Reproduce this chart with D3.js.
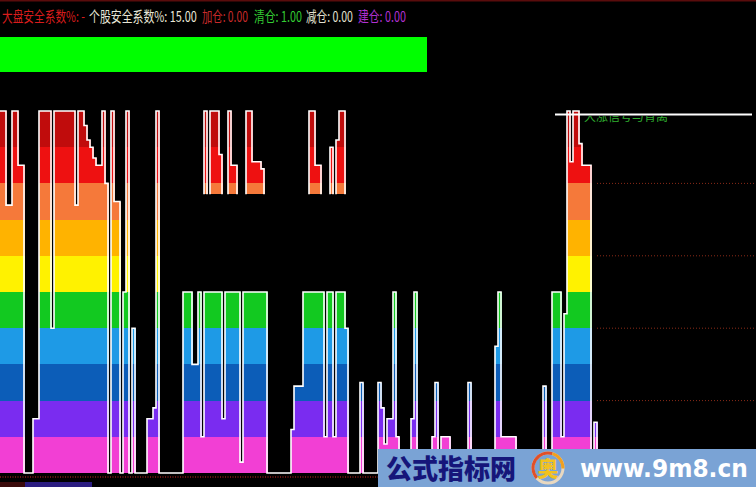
<!DOCTYPE html>
<html><head><meta charset="utf-8">
<script src="https://cdn.jsdelivr.net/npm/d3@7/dist/d3.min.js"></script>
<style>html,body{margin:0;padding:0;background:#000;overflow:hidden}svg{display:block}</style>
</head><body>
<svg id="c" width="756" height="487"></svg>
<script>
// ---- data ----
// main indicator value per bar (0..10 band units)
const mainValues = [
  10,10,7.4,7.4,10,10,8.5,8.5,0,0,
  0,1.5,1.5,10,10,10,10,4,10,10,
  10,10,10,10,10,7.4,10,10,9.6,9.2,
  9.0,8.7,8.5,8.5,10,8,0,10,7.5,7.5,
  0,5,10,0,4,0,0,0,0,1.5,
  1.5,1.8,10,0,0,0,0,0,0,0,
  0,5,5,5,3,3,5,1,5,5,
  5,5,5,5,1.5,5,5,5,5,5,
  0.3,5,5,5,5,5,5,5,5,0,
  0,0,0,0,0,0,0,1.2,2.4,2.4,
  2.4,5,5,5,5,5,5,5,1,5,
  5,1,5,5,5,4,0,0,0,0,
  2.5,0,0,0,0,0,2.5,1.8,0.8,1.5,
  1.5,5,1,0,0,0,0,1.5,5,0,
  0,0,0,0,1,2.5,0,1,1,1,
  0,0,0,0,0,0,2.5,0,0,0,
  0,0,0,0,0,3.5,5,1,1,1,
  1,1,0,0,0,0,0,0,0,0,
  0,2.4,0,0,5,5,5,1,4.4,10,
  8.6,10,10,9.1,8.5,8.5,8.5,0,1.4,0
];
// floating top blocks: bar index and top value (base at blockBase)
const blockBars = [68,70,71,72,73,76,77,78,82,83,84,85,86,87,103,104,105,106,110,112,113,114];
const blockTops = [10,10,10,10,8.8,10,8.5,8.5,10,10,8.6,8.6,8.6,8.4,10,10,8.5,8.5,9.0,9.2,10,10];
const blockBase = 7.7;
const bandColors = ["#f23fd4","#7a2cf0","#0c5db8","#1e9ae6","#12c920","#fff200","#ffb300","#f5793a","#ee1111","#c00c0c"];
const guideLevels = [2,4,6,8];
const refLevel = 9.9;
const refStartBar = 185;
const header = [
  {t:"大盘安全系数%: -", c:"#d81c1c", x:2, w:83},
  {t:"个股安全系数%: 15.00", c:"#e8e6d6", x:89, w:108},
  {t:"加仓: 0.00", c:"#c82a2a", x:202, w:46},
  {t:"清仓: 1.00", c:"#33cc33", x:254, w:48},
  {t:"减仓: 0.00", c:"#e2e0d0", x:306, w:47},
  {t:"建仓: 0.00", c:"#b030d0", x:358, w:48}
];

// ---- drawing ----
const svg = d3.select("#c");
const W = 756, H = 487;
svg.append("rect").attr("width",W).attr("height",H).attr("fill","#000");

const x = d3.scaleBand().domain(d3.range(mainValues.length)).range([0,600]).padding(0);
const y = d3.scaleLinear().domain([0,10]).range([473,111]);
const bw = x.bandwidth();

// helper: text squeezed horizontally to a target width
function fitText(sel, tx, ty, w){
  const len = sel.node().getComputedTextLength();
  sel.attr("x",0).attr("y",0).attr("transform",`translate(${tx},${ty}) scale(${w/len},1)`);
}

// top border
svg.append("rect").attr("x",0).attr("y",0).attr("width",W).attr("height",1.5).attr("fill","#5a0c0c");

// header texts
header.forEach(d=>{
  const t = svg.append("text").attr("fill",d.c)
    .attr("font-family","'Noto Sans CJK SC', sans-serif").attr("font-size",15)
    .text(d.t);
  fitText(t, d.x, 22, d.w);
});

// green bar
svg.append("rect").attr("x",0).attr("y",37).attr("width",427).attr("height",35).attr("fill","#00ff00");

// right guide dotted lines
svg.selectAll("line.guide").data(guideLevels).join("line").attr("class","guide")
  .attr("x1",597).attr("x2",W).attr("y1",d=>y(d)).attr("y2",d=>y(d))
  .attr("stroke","#8a2a18").attr("stroke-width",1).attr("stroke-dasharray","1,2");

// band segments for main bars
const segs = [];
mainValues.forEach((v,i)=>{
  for(let k=0;k<10;k++){ if(v>k) segs.push({i, lo:k, hi:Math.min(v,k+1), k}); }
});
const g = svg.append("g").attr("shape-rendering","crispEdges");
g.selectAll("rect.seg").data(segs).join("rect").attr("class","seg")
  .attr("x",d=>x(d.i)).attr("width",bw+0.5)
  .attr("y",d=>y(d.hi)).attr("height",d=>y(d.lo)-y(d.hi))
  .attr("fill",d=>bandColors[d.k]);

// floating blocks
const bsegs = [];
blockBars.forEach((b,j)=>{
  const top = blockTops[j];
  for(let k=Math.floor(blockBase);k<10;k++){
    const lo=Math.max(blockBase,k), hi=Math.min(top,k+1);
    if(hi>lo) bsegs.push({i:b, lo, hi, k});
  }
});
g.selectAll("rect.bseg").data(bsegs).join("rect").attr("class","bseg")
  .attr("x",d=>x(d.i)).attr("width",bw+0.5)
  .attr("y",d=>y(d.hi)).attr("height",d=>y(d.lo)-y(d.hi))
  .attr("fill",d=>bandColors[d.k]);

// white step outline of main series
const pts = [];
mainValues.forEach((v,i)=>{ pts.push([x(i), y(v)]); pts.push([x(i)+bw, y(v)]); });
const line = d3.line();
svg.append("path").attr("d",line(pts)).attr("fill","none")
  .attr("stroke","#fff").attr("stroke-width",1.6).attr("stroke-linejoin","miter");

// outlines of floating blocks (contiguous runs)
const runs = [];
blockBars.forEach((b,j)=>{
  const last = runs[runs.length-1];
  if(last && last[last.length-1].b===b-1) last.push({b,t:blockTops[j]});
  else runs.push([{b,t:blockTops[j]}]);
});
runs.forEach(r=>{
  const p=[[x(r[0].b), y(blockBase)]];
  r.forEach(d=>{ p.push([x(d.b), y(d.t)]); p.push([x(d.b)+bw, y(d.t)]); });
  p.push([x(r[r.length-1].b)+bw, y(blockBase)]);
  svg.append("path").attr("d",line(p)).attr("fill","none")
    .attr("stroke","#fff").attr("stroke-width",1.6);
});

// green caption, mostly hidden under the reference line
svg.append("clipPath").attr("id","capclip").append("rect").attr("x",580).attr("y",116).attr("width",120).attr("height",8);
svg.append("text").attr("x",584).attr("y",121).attr("fill","#2fae2f")
  .attr("font-family","'Noto Sans CJK SC', sans-serif").attr("font-size",12)
  .attr("clip-path","url(#capclip)").text("大涨信号与背离");

// reference white line
svg.append("line").attr("x1",x(refStartBar)).attr("x2",752).attr("y1",y(refLevel)).attr("y2",y(refLevel))
  .attr("stroke","#fff").attr("stroke-width",2);

// bottom dotted line and bar
svg.append("line").attr("x1",0).attr("x2",W).attr("y1",477).attr("y2",477)
  .attr("stroke","#6a1410").attr("stroke-width",2).attr("stroke-dasharray","1,1.5");
svg.append("rect").attr("x",25).attr("y",482).attr("width",67).attr("height",5).attr("fill","#2a1c80");
svg.append("rect").attr("x",0).attr("y",482).attr("width",25).attr("height",5).attr("fill","#3a0a0a");

// watermark
const wm = svg.append("g");
wm.append("rect").attr("x",378).attr("y",449).attr("width",378).attr("height",38).attr("fill","#7aa3d5");
const wt1 = wm.append("text").attr("fill","#16167a")
  .attr("font-family","'Noto Sans CJK SC', sans-serif").attr("font-weight",900).attr("font-size",27)
  .text("公式指标网");
fitText(wt1, 386, 479, 130);
wm.append("circle").attr("cx",548).attr("cy",468).attr("r",15).attr("fill","none").attr("stroke","#e8d8c0").attr("stroke-width",3);
const arc = d3.arc().innerRadius(13.5).outerRadius(16.5);
wm.append("path").attr("transform","translate(548,468)").attr("d",arc({startAngle:-2.3,endAngle:0.3})).attr("fill","#e0502a");
wm.append("path").attr("transform","translate(548,468)").attr("d",arc({startAngle:0.3,endAngle:1.6})).attr("fill","#f0a020");
wm.append("text").attr("x",548).attr("y",476).attr("text-anchor","middle").attr("fill","#f2c21e")
  .attr("font-family","'Noto Sans CJK SC', sans-serif").attr("font-weight",900).attr("font-size",21).text("奥");
const wt2 = wm.append("text").attr("fill","#ffffff")
  .attr("font-family","'DejaVu Sans', sans-serif").attr("font-weight",900).attr("font-size",24)
  .text("www.9m8.cn");
fitText(wt2, 580, 477, 168);
</script>
</body></html>
